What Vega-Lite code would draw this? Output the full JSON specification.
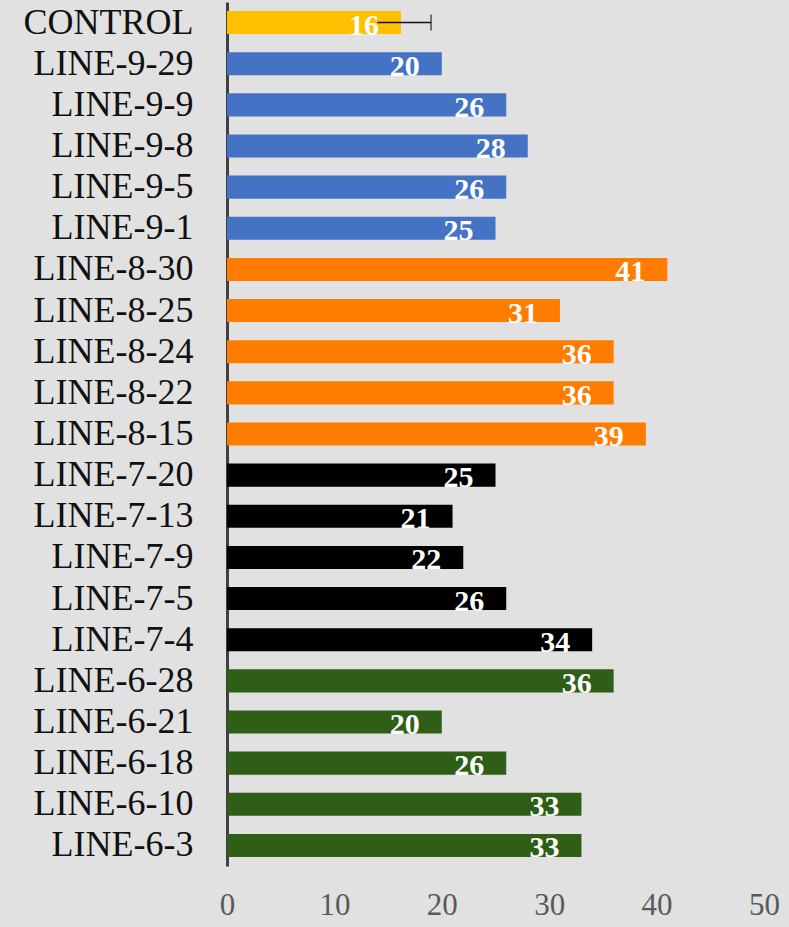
{
  "$schema": "https://vega.github.io/schema/vega-lite/v6.json",
  "width": 537,
  "height": 864,
  "autosize": {"type": "none"},
  "padding": {"left": 227, "top": 2, "right": 25, "bottom": 61},
  "background": "#e1e1e1",
  "config": {
    "view": {"stroke": null},
    "font": "Liberation Serif"
  },
  "data": {
    "values": [
      {"line": "CONTROL", "value": 16.2, "group": "control", "low": 14, "high": 19},
      {"line": "LINE-9-29", "value": 20, "group": "9"},
      {"line": "LINE-9-9", "value": 26, "group": "9"},
      {"line": "LINE-9-8", "value": 28, "group": "9"},
      {"line": "LINE-9-5", "value": 26, "group": "9"},
      {"line": "LINE-9-1", "value": 25, "group": "9"},
      {"line": "LINE-8-30", "value": 41, "group": "8"},
      {"line": "LINE-8-25", "value": 31, "group": "8"},
      {"line": "LINE-8-24", "value": 36, "group": "8"},
      {"line": "LINE-8-22", "value": 36, "group": "8"},
      {"line": "LINE-8-15", "value": 39, "group": "8"},
      {"line": "LINE-7-20", "value": 25, "group": "7"},
      {"line": "LINE-7-13", "value": 21, "group": "7"},
      {"line": "LINE-7-9", "value": 22, "group": "7"},
      {"line": "LINE-7-5", "value": 26, "group": "7"},
      {"line": "LINE-7-4", "value": 34, "group": "7"},
      {"line": "LINE-6-28", "value": 36, "group": "6"},
      {"line": "LINE-6-21", "value": 20, "group": "6"},
      {"line": "LINE-6-18", "value": 26, "group": "6"},
      {"line": "LINE-6-10", "value": 33, "group": "6"},
      {"line": "LINE-6-3", "value": 33, "group": "6"}
    ]
  },
  "encoding": {
    "y": {
      "field": "line",
      "type": "nominal",
      "sort": null,
      "scale": {"paddingInner": 0.44, "paddingOuter": 0.22},
      "axis": {
        "title": null,
        "labelFont": "Liberation Serif",
        "labelFontSize": 36,
        "labelColor": "#111111",
        "labelPadding": 34,
        "ticks": false,
        "domainColor": "#404040",
        "domainWidth": 3
      }
    }
  },
  "layer": [
    {
      "mark": {"type": "bar"},
      "encoding": {
        "x": {
          "field": "value",
          "type": "quantitative",
          "scale": {"domain": [0, 50]},
          "axis": {
            "title": null,
            "values": [0, 10, 20, 30, 40, 50],
            "grid": false,
            "domain": false,
            "ticks": false,
            "labelFont": "Liberation Serif",
            "labelFontSize": 31,
            "labelColor": "#595959",
            "labelPadding": 24,
            "labelFlush": false
          }
        },
        "color": {
          "field": "group",
          "type": "nominal",
          "scale": {
            "domain": ["control", "9", "8", "7", "6"],
            "range": ["#FFC000", "#4472C4", "#FF7C00", "#000000", "#2F5E17"]
          },
          "legend": null
        }
      }
    },
    {
      "mark": {"type": "text", "align": "right", "baseline": "middle", "dx": -22, "dy": 3, "color": "white", "fontSize": 30, "fontWeight": "bold", "font": "Liberation Serif"},
      "encoding": {
        "x": {"field": "value", "type": "quantitative"},
        "text": {"field": "value", "type": "quantitative", "format": ".0f"}
      }
    },
    {
      "transform": [{"filter": "datum.high != null"}],
      "mark": {"type": "rule", "color": "#111111", "strokeWidth": 1.5},
      "encoding": {
        "x": {"field": "low", "type": "quantitative"},
        "x2": {"field": "high"}
      }
    },
    {
      "transform": [{"filter": "datum.high != null"}],
      "mark": {"type": "tick", "color": "#111111", "thickness": 1.5, "size": 16, "orient": "vertical"},
      "encoding": {
        "x": {"field": "high", "type": "quantitative"}
      }
    }
  ]
}
